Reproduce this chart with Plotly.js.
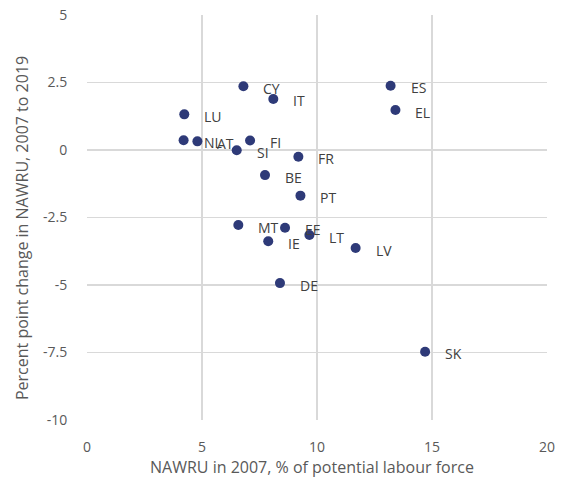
<!DOCTYPE html>
<html>
<head>
<meta charset="utf-8">
<script src="https://cdn.plot.ly/plotly-3.0.1.min.js"></script>
<style>html,body{margin:0;padding:0;background:#fff;}#chart{width:564px;height:483px;}</style>
</head>
<body>
<div id="chart"></div>
<script>
var countries = ['CY','IT','LU','NL','AT','FI','SI','FR','BE','PT','MT','EE','IE','LT','LV','DE','ES','EL','SK'];
var nawru2007 = [6.8, 8.1, 4.23, 4.2, 4.8, 7.09, 6.51, 9.19, 7.74, 9.28, 6.58, 8.61, 7.88, 9.67, 11.68, 8.39, 13.2, 13.41, 14.7];
var change0719 = [2.36, 1.89, 1.32, 0.36, 0.32, 0.35, -0.01, -0.25, -0.93, -1.69, -2.78, -2.88, -3.38, -3.15, -3.63, -4.93, 2.38, 1.48, -7.47];
var yTickVals = [5, 2.5, 0, -2.5, -5, -7.5, -10];
var yTickText = ['5', '2.5', '0', '-2.5', '-5', '-7.5', '-10'];
var xTickVals = [0, 5, 10, 15, 20];
var xTickText = ['0', '5', '10', '15', '20'];
var xTitle = 'NAWRU in 2007, % of potential labour force';
var yTitle = 'Percent point change in NAWRU, 2007 to 2019';

var FONT = 'Open Sans, Noto Sans, sans-serif';
var annotations = countries.map(function(c, i){
  return {x: nawru2007[i], y: change0719[i], xref:'x', yref:'y', text: c, showarrow:false,
    xanchor:'left', yanchor:'middle', xshift:18, yshift:-2,
    font:{family:FONT, size:14, color:'#404040'}};
});
annotations.push({xref:'paper', yref:'paper', x:0.489, y:-0.116, text:xTitle, showarrow:false,
  xanchor:'center', yanchor:'middle', font:{family:FONT, size:16, color:'#595959'}});
annotations.push({xref:'paper', yref:'paper', x:-0.1413, y:0.474, text:yTitle, showarrow:false, textangle:-90,
  xanchor:'center', yanchor:'middle', font:{family:FONT, size:16, color:'#595959'}});

var trace = {
  type:'scatter', mode:'markers', x: nawru2007, y: change0719,
  marker:{color:'#2E3A78', size:10},
  hoverinfo:'none', cliponaxis:false
};

var layout = {
  width:564, height:483,
  margin:{l:87, r:17, t:15, b:63},
  paper_bgcolor:'#fff', plot_bgcolor:'#fff',
  showlegend:false,
  font:{family:FONT, color:'#595959', size:13},
  xaxis:{range:[0,20], tickvals:xTickVals, ticktext:xTickText,
    showgrid:true, gridcolor:'#d9d9d9', gridwidth:1.3, zeroline:false, showline:false,
    ticks:'outside', ticklen:14, tickcolor:'rgba(0,0,0,0)',
    tickfont:{family:FONT, size:14, color:'#595959'},
    automargin:false, fixedrange:true},
  yaxis:{range:[-10,5], tickvals:yTickVals, ticktext:yTickText,
    showgrid:true, gridcolor:'#d9d9d9', gridwidth:1.3, zeroline:false, showline:false,
    ticks:'outside', ticklen:16, tickcolor:'rgba(0,0,0,0)',
    tickfont:{family:FONT, size:14, color:'#595959'},
    automargin:false, fixedrange:true},
  annotations: annotations
};

Plotly.newPlot('chart', [trace], layout, {displayModeBar:false, staticPlot:true});
</script>
</body>
</html>
